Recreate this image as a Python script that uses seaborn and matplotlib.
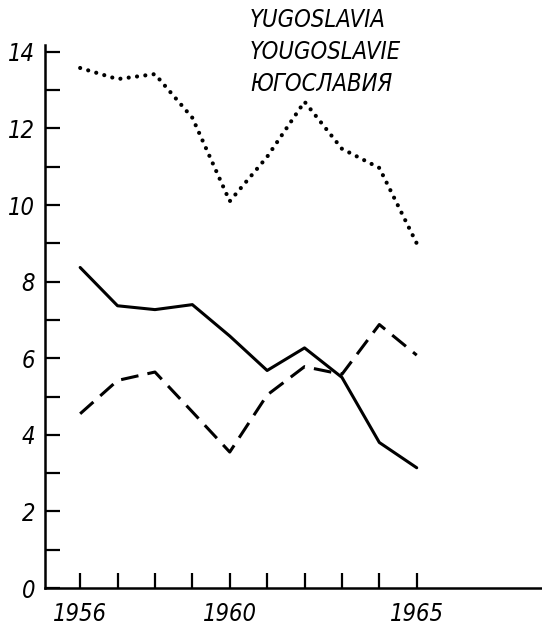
import pandas as pd
import matplotlib.pyplot as plt
import seaborn as sns

# values
years = [1956, 1957, 1958, 1959, 1960, 1961, 1962, 1963, 1964, 1965]
dotted_vals = [13.58, 13.29, 13.42, 12.28, 10.1, 11.26, 12.7, 11.47, 10.97, 9.0]
solid_vals = [8.37, 7.37, 7.27, 7.4, 6.58, 5.68, 6.27, 5.5, 3.8, 3.14]
dashed_vals = [4.55, 5.42, 5.64, 4.6, 3.55, 5.04, 5.78, 5.58, 6.88, 6.08]
title_lines = ["YUGOSLAVIA", "YOUGOSLAVIE", "ЮГОСЛАВИЯ"]
y_ticks = [0, 2, 4, 6, 8, 10, 12, 14]
x_ticks = [1956, 1960, 1965]

df = pd.DataFrame({'year': years, 'dotted': dotted_vals,
                   'solid': solid_vals, 'dashed': dashed_vals})

sns.set_style("ticks")
plt.rcParams['font.family'] = ['DejaVu Sans']
plt.rcParams['font.stretch'] = 'condensed'
plt.rcParams['text.color'] = 'black'
plt.rcParams['xtick.color'] = 'black'
plt.rcParams['ytick.color'] = 'black'

fig = plt.figure(figsize=(5.42, 6.27), dpi=100)
ax = fig.add_axes([45 / 542, 39 / 627, 497 / 542, 543 / 627])

sns.lineplot(data=df, x='year', y='dotted', ax=ax, color='black', lw=3,
             linestyle=(0, (0.01, 2.0)), dash_capstyle='round')
sns.lineplot(data=df, x='year', y='solid', ax=ax, color='black', lw=2.2)
sns.lineplot(data=df, x='year', y='dashed', ax=ax, color='black', lw=2.2,
             linestyle=(0, (5.8, 3.0)))

ax.set_xlim(1955.06, 1968.35)
ax.set_ylim(0, 14.18)
ax.set_xlabel("")
ax.set_ylabel("")

ax.set_yticks(y_ticks)
ax.set_yticks(range(0, 15), minor=True)
ax.set_xticks(x_ticks)
ax.set_xticks(years, minor=True)
ax.set_yticklabels([str(t) for t in y_ticks], fontsize=17, style='oblique',
                   stretch='condensed')
ax.set_xticklabels([str(t) for t in x_ticks], fontsize=17, style='oblique',
                   stretch='condensed')

ax.tick_params(axis='both', which='both', direction='in', length=11,
               width=1.6, color='black', labelcolor='black')
ax.tick_params(axis='y', which='major', pad=7)
ax.tick_params(axis='x', which='major', pad=10)

sns.despine(ax=ax, top=True, right=True)
for side in ['left', 'bottom']:
    ax.spines[side].set_linewidth(1.8)
    ax.spines[side].set_color('black')

for i, line in enumerate(title_lines):
    fig.text(250 / 542, 1 - (20 + i * 32) / 627, line, fontsize=17,
             style='oblique', stretch='condensed', color='black',
             ha='left', va='center')

fig.savefig("out.png", dpi=100)
